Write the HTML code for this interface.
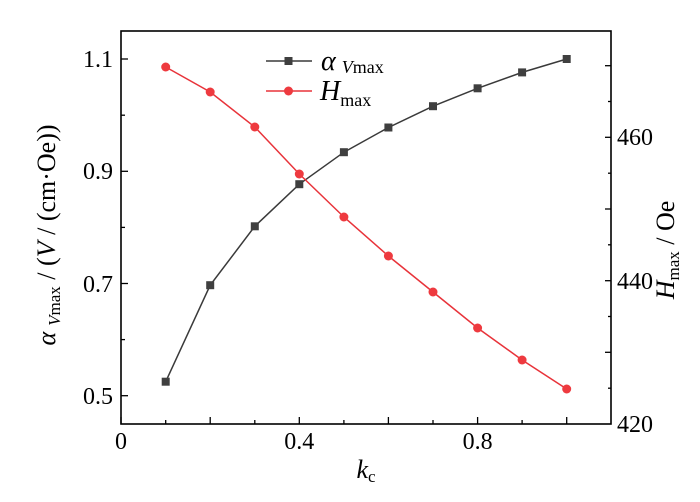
<!DOCTYPE html>
<html><head><meta charset="utf-8"><style>
body{margin:0;background:#fff}
svg, svg text{font-family:"Liberation Serif","Times New Roman",serif}
</style></head><body>
<svg width="700" height="497" viewBox="0 0 700 497" font-family="Liberation Serif, serif">
<rect x="121" y="31" width="490" height="393" fill="none" stroke="#000" stroke-width="1.6"/>
<g stroke="#000" stroke-width="1.3">
<line x1="121" y1="424" x2="121" y2="417"/><line x1="165.7" y1="424" x2="165.7" y2="420"/>
<line x1="210.2" y1="424" x2="210.2" y2="417"/><line x1="254.8" y1="424" x2="254.8" y2="420"/>
<line x1="299.3" y1="424" x2="299.3" y2="417"/><line x1="343.9" y1="424" x2="343.9" y2="420"/>
<line x1="388.4" y1="424" x2="388.4" y2="417"/><line x1="433" y1="424" x2="433" y2="420"/>
<line x1="477.6" y1="424" x2="477.6" y2="417"/><line x1="522.1" y1="424" x2="522.1" y2="420"/>
<line x1="566.7" y1="424" x2="566.7" y2="417"/>
<line x1="121" y1="395.7" x2="128" y2="395.7"/><line x1="121" y1="339.6" x2="125" y2="339.6"/>
<line x1="121" y1="283.5" x2="128" y2="283.5"/><line x1="121" y1="227.4" x2="125" y2="227.4"/>
<line x1="121" y1="171.3" x2="128" y2="171.3"/><line x1="121" y1="115.2" x2="125" y2="115.2"/>
<line x1="121" y1="59" x2="128" y2="59"/>
<line x1="611" y1="388.2" x2="608" y2="388.2"/><line x1="611" y1="352.3" x2="605" y2="352.3"/>
<line x1="611" y1="316.5" x2="608" y2="316.5"/><line x1="611" y1="280.7" x2="605" y2="280.7"/>
<line x1="611" y1="244.8" x2="608" y2="244.8"/><line x1="611" y1="209" x2="605" y2="209"/>
<line x1="611" y1="173.2" x2="608" y2="173.2"/><line x1="611" y1="137.3" x2="605" y2="137.3"/>
<line x1="611" y1="101.5" x2="608" y2="101.5"/><line x1="611" y1="65.7" x2="605" y2="65.7"/>
</g>
<g font-size="24" text-anchor="middle">
<text x="121" y="449">0</text><text x="299.3" y="449">0.4</text><text x="477.6" y="449">0.8</text>
</g>
<g font-size="24" text-anchor="end">
<text x="113" y="404">0.5</text><text x="113" y="292">0.7</text><text x="113" y="179">0.9</text><text x="113" y="67">1.1</text>
</g>
<g font-size="24" text-anchor="start">
<text x="617" y="432">420</text><text x="617" y="289">440</text><text x="617" y="145">460</text>
</g>
<text x="366" y="478" font-size="26" text-anchor="middle"><tspan font-style="italic">k</tspan><tspan font-size="17" dy="4">c</tspan></text>
<text transform="translate(55,235) rotate(-90)" font-size="26" text-anchor="middle"><tspan font-style="italic">α</tspan><tspan font-size="17" dy="5" dx="6" font-style="italic">V</tspan><tspan font-size="17">max</tspan><tspan dy="-5"> / (</tspan><tspan font-style="italic">V</tspan><tspan> / (cm·Oe))</tspan></text>
<text transform="translate(674,250) rotate(-90)" font-size="26" text-anchor="middle"><tspan font-style="italic">H</tspan><tspan font-size="17" dy="5">max</tspan><tspan dy="-5"> / Oe</tspan></text>
<polyline fill="none" stroke="#3a3a3a" stroke-width="1.5" points="165.7,381.7 210.2,285.2 254.8,226.3 299.3,184.2 343.9,152.2 388.4,127.5 433,106.2 477.6,88.3 522.1,72.4 566.7,59"/>
<g fill="#3f3f3f">
<rect x="161.7" y="377.7" width="8" height="8"/><rect x="206.2" y="281.2" width="8" height="8"/><rect x="250.8" y="222.3" width="8" height="8"/><rect x="295.3" y="180.2" width="8" height="8"/><rect x="339.9" y="148.2" width="8" height="8"/><rect x="384.4" y="123.5" width="8" height="8"/><rect x="429" y="102.2" width="8" height="8"/><rect x="473.6" y="84.3" width="8" height="8"/><rect x="518.1" y="68.4" width="8" height="8"/><rect x="562.7" y="55" width="8" height="8"/>
</g>
<polyline fill="none" stroke="#e8333a" stroke-width="1.5" points="165.7,67 210.2,92 254.8,127 299.3,174 343.9,217 388.4,256 433,292 477.6,328 522.1,360 566.7,389"/>
<g fill="#ee3a3f">
<circle cx="165.7" cy="67" r="4.5"/><circle cx="210.2" cy="92" r="4.5"/><circle cx="254.8" cy="127" r="4.5"/><circle cx="299.3" cy="174" r="4.5"/><circle cx="343.9" cy="217" r="4.5"/><circle cx="388.4" cy="256" r="4.5"/><circle cx="433" cy="292" r="4.5"/><circle cx="477.6" cy="328" r="4.5"/><circle cx="522.1" cy="360" r="4.5"/><circle cx="566.7" cy="389" r="4.5"/>
</g>
<line x1="266" y1="61" x2="312" y2="61" stroke="#3a3a3a" stroke-width="1.5"/>
<rect x="284.5" y="57" width="8" height="8" fill="#3f3f3f"/>
<line x1="266" y1="91" x2="312" y2="91" stroke="#e8333a" stroke-width="1.5"/>
<circle cx="288.5" cy="91" r="4.5" fill="#ee3a3f"/>
<text x="321" y="70" font-size="28"><tspan font-style="italic">α</tspan><tspan font-size="18" dy="3" dx="6" font-style="italic">V</tspan><tspan font-size="18">max</tspan></text>
<text x="320" y="100" font-size="28"><tspan font-style="italic">H</tspan><tspan font-size="18" dy="6">max</tspan></text>
</svg>
</body></html>
